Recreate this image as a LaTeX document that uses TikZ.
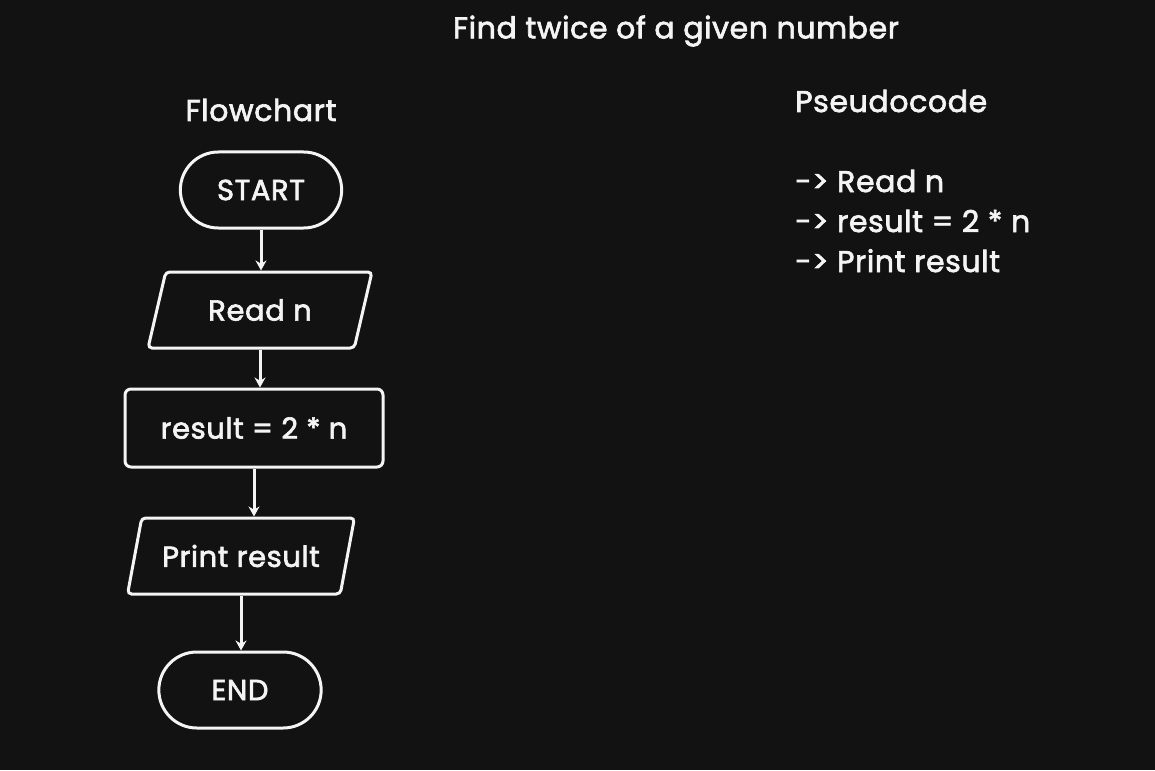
\documentclass[tikz,border=0pt]{standalone}
\usepackage{fontspec}
\setmainfont{Poppins}[FakeBold=2.2, LetterSpace=2]
\usetikzlibrary{arrows.meta,shapes.geometric,shapes.misc}
\definecolor{canvas}{HTML}{121212}
\definecolor{ink}{HTML}{F4F4F4}

\begin{document}
\begin{tikzpicture}[x=1pt, y=-1pt,
    every node/.style={text=ink, font=\fontsize{29}{32}\selectfont},
    terminal/.style={draw=ink, line width=3pt, rounded rectangle, minimum width=168pt, minimum height=76pt},
    iobox/.style={draw=ink, line width=3pt, trapezium, trapezium stretches=true, trapezium left angle=70, trapezium right angle=110, rounded corners=4pt, minimum height=76pt},
    procbox/.style={draw=ink, line width=3pt, rectangle, rounded corners=6pt, minimum width=258pt, minimum height=78pt},
    flow/.style={draw=ink, line width=3pt, -{Stealth[length=10pt, width=11pt]}},
    heading/.style={font=\fontsize{30}{34}\selectfont, inner sep=0pt}]
    \fill[canvas] (0,0) rectangle (1155,770);
    % titles
    \node[heading] (title) at (676,31){Find twice of a given number};
    \node[heading] (flowtitle) at (261,110){Flowchart};
    \node[heading, anchor=base west] (pseudotitle) at (795,112){Pseudocode};
    % flowchart
    \node[terminal] (start) at (261,190){START};
    \node[iobox, minimum width=224pt] (read) at (260,310){Read n};
    \node[procbox] (calc) at (254,428){result = 2 * n};
    \node[iobox, minimum width=227pt, trapezium left angle=68, trapezium right angle=112] (print) at (241,556){Print result};
    \node[terminal, minimum width=169pt] (stop) at (240,690){END};
    \draw[flow] (start.south) -- (start.south |- read.north);
    \draw[flow] (read.south) -- (read.south |- calc.north);
    \draw[flow] (calc.south) -- (calc.south |- print.north);
    \draw[flow] (print.south) -- (print.south |- stop.north);
    % pseudocode
    \node[heading, anchor=base west] (step1) at (795,192){-> Read n};
    \node[heading, anchor=base west] (step2) at (795,232){-> result = 2 * n};
    \node[heading, anchor=base west] (step3) at (795,272){-> Print result};
\end{tikzpicture}
\end{document}
